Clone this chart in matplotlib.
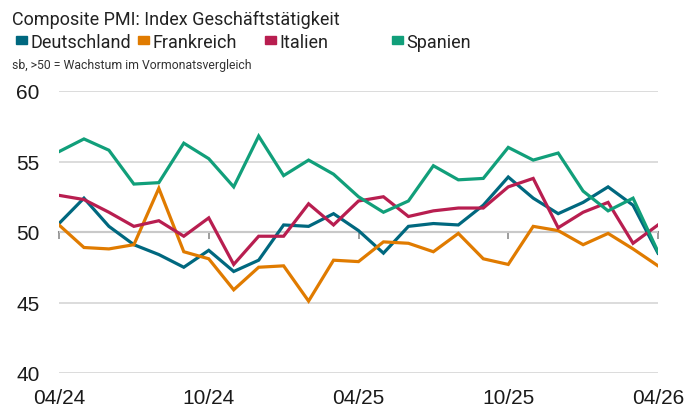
import numpy as np
import matplotlib
matplotlib.use("Agg")
import matplotlib.pyplot as plt
from matplotlib.patches import Rectangle

# Monthly composite PMI, 04/24 .. 04/26
months = ["04/24", "05/24", "06/24", "07/24", "08/24", "09/24", "10/24", "11/24",
          "12/24", "01/25", "02/25", "03/25", "04/25", "05/25", "06/25", "07/25",
          "08/25", "09/25", "10/25", "11/25", "12/25", "01/26", "02/26", "03/26", "04/26"]
tick_labels = ["04/24", "10/24", "04/25", "10/25", "04/26"]

deutschland = [50.6, 52.4, 50.4, 49.1, 48.4, 47.5, 48.7, 47.2, 48.0, 50.5, 50.4, 51.3, 50.1,
               48.5, 50.4, 50.6, 50.5, 51.9, 53.9, 52.4, 51.3, 52.1, 53.2, 51.9, 48.5]
frankreich = [50.5, 48.9, 48.8, 49.1, 53.1, 48.6, 48.1, 45.9, 47.5, 47.6, 45.1, 48.0, 47.9,
              49.3, 49.2, 48.6, 49.9, 48.1, 47.7, 50.4, 50.1, 49.1, 49.9, 48.8, 47.6]
italien = [52.6, 52.3, 51.4, 50.4, 50.8, 49.7, 51.0, 47.7, 49.7, 49.7, 52.0, 50.5, 52.2,
           52.5, 51.1, 51.5, 51.7, 51.7, 53.2, 53.8, 50.3, 51.4, 52.1, 49.2, 50.5]
spanien = [55.7, 56.6, 55.8, 53.4, 53.5, 56.3, 55.2, 53.2, 56.8, 54.0, 55.1, 54.1, 52.5,
           51.4, 52.2, 54.7, 53.7, 53.8, 56.0, 55.1, 55.6, 52.9, 51.5, 52.4, 48.6]

names = ["Deutschland", "Frankreich", "Italien", "Spanien"]
colors = ["#00687f", "#e07b00", "#b81e50", "#119f7a"]
series = [deutschland, frankreich, italien, spanien]

narrow = ["Roboto", "DejaVu Sans"]
plt.rcParams["font.family"] = ["Liberation Sans", "DejaVu Sans"]

fig = plt.figure(figsize=(7, 4.1), dpi=100)
ax = fig.add_axes([59 / 700, 1 - 374 / 410, (658 - 59) / 700, (374 - 92) / 410])

x = np.arange(len(months))
for vals, c in zip(series, colors):
    ax.plot(x, vals, color=c, lw=2.3, solid_joinstyle="miter", zorder=3)

ax.set_xlim(0, len(months) - 1)
ax.set_ylim(40, 60)
ax.set_yticks([40, 45, 50, 55, 60])
ax.set_xticks([months.index(m) for m in tick_labels])
ax.set_xticklabels(tick_labels)
ax.tick_params(axis="both", length=0, labelsize=15, colors="#1a1a1a")
ax.tick_params(axis="x", pad=11)
ax.tick_params(axis="y", pad=14)
ax.grid(axis="y", color="#d6d6d6", lw=1.2)
for s in ax.spines.values():
    s.set_visible(False)

# line at 50 with small ticks
sec = ax.secondary_xaxis(0.5)
sec.set_alignment("bottom")
sec.set_xticks(ax.get_xticks())
sec.tick_params(labelbottom=False, length=5, width=1.2, color="#8c8c8c")
sec.spines["bottom"].set_color("#8c8c8c")
sec.spines["bottom"].set_linewidth(1.5)

# header
fig.text(12 / 700, 1 - 20 / 410, "Composite PMI: Index Geschäftstätigkeit",
         family=narrow, fontsize=13, color="#222222", va="center", ha="left")
leg_x = [16, 138, 265, 392]
for lx, name, c in zip(leg_x, names, colors):
    fig.patches.append(Rectangle((lx / 700, 1 - 45 / 410), 11 / 700, 8 / 410,
                                 transform=fig.transFigure, color=c))
    fig.text((lx + 14) / 700, 1 - 43 / 410, name, family=narrow, fontsize=13,
             color="#222222", va="center", ha="left")
fig.text(12 / 700, 1 - 65 / 410, "sb, >50 = Wachstum im Vormonatsvergleich",
         family=narrow, fontsize=8.8, color="#333333", va="center", ha="left")

fig.savefig("out.png", dpi=100, facecolor="white")
